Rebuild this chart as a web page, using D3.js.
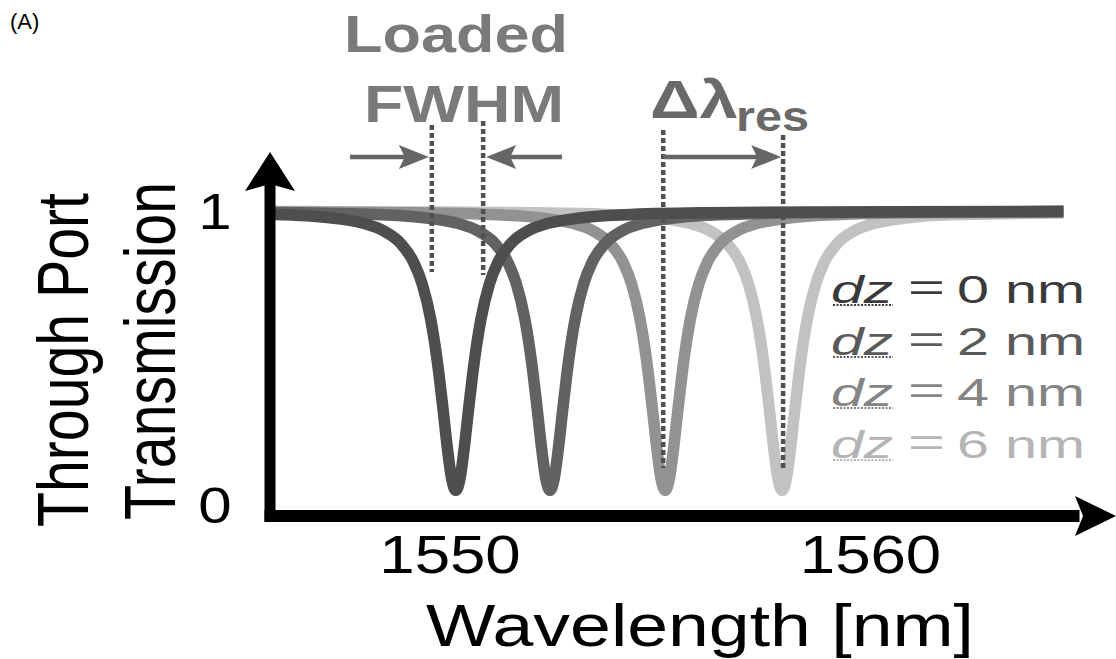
<!DOCTYPE html>
<html><head><meta charset="utf-8">
<script src="https://cdn.jsdelivr.net/npm/d3@7"></script>
<style>
body{margin:0;background:#fff}
svg{display:block;background:#fff}
text{font-family:"Liberation Sans",Arial,Helvetica,sans-serif}
</style></head>
<body><svg id="c" width="1116" height="659"></svg>
<script>
// ---------------- data ----------------
const wavelengthTicks = [1550, 1560];
const transmissionTicks = [0, 1];
const dzValues = ["0", "2", "4", "6"];
const resonanceCenters = [1550.15, 1552.39, 1555.13, 1557.91];
const fwhmEdges = [1549.58, 1550.80];

const dz0 = [[1545.85,.988],[1547.15,.977],[1547.95,.958],[1548.45,.931],[1548.85,.888],[1549.15,.825],[1549.35,.752],[1549.55,.634],[1549.65,.549],[1549.75,.444],[1549.85,.321],[1549.95,.193],[1550.05,.090],[1550.15,.050],[1550.25,.090],[1550.35,.193],[1550.45,.321],[1550.55,.444],[1550.65,.549],[1550.75,.634],[1550.95,.752],[1551.15,.825],[1551.45,.888],[1551.85,.931],[1552.35,.958],[1553.15,.977],[1554.15,.987],[1556.15,.994],[1559.15,.997],[1564.60,.999]];
const dz2 = [[1545.85,.995],[1546.39,.994],[1548.39,.987],[1549.39,.977],[1550.19,.958],[1550.69,.931],[1551.09,.888],[1551.39,.825],[1551.59,.752],[1551.79,.634],[1551.89,.549],[1551.99,.444],[1552.09,.321],[1552.19,.193],[1552.29,.090],[1552.39,.050],[1552.49,.090],[1552.59,.193],[1552.69,.321],[1552.79,.444],[1552.89,.549],[1552.99,.634],[1553.19,.752],[1553.39,.825],[1553.69,.888],[1554.09,.931],[1554.59,.958],[1555.39,.977],[1556.39,.987],[1558.39,.994],[1561.39,.997],[1564.60,.998]];
const dz4 = [[1545.85,.997],[1549.13,.994],[1551.13,.987],[1552.13,.977],[1552.93,.958],[1553.43,.931],[1553.83,.888],[1554.13,.825],[1554.33,.752],[1554.53,.634],[1554.63,.549],[1554.73,.444],[1554.83,.321],[1554.93,.193],[1555.03,.090],[1555.13,.050],[1555.23,.090],[1555.33,.193],[1555.43,.321],[1555.53,.444],[1555.63,.549],[1555.73,.634],[1555.93,.752],[1556.13,.825],[1556.43,.888],[1556.83,.931],[1557.33,.958],[1558.13,.977],[1559.13,.987],[1561.13,.994],[1564.60,.996]];
const dz6 = [[1545.85,.998],[1548.91,.997],[1551.91,.994],[1553.91,.987],[1554.91,.977],[1555.71,.958],[1556.21,.931],[1556.61,.888],[1556.91,.825],[1557.11,.752],[1557.31,.634],[1557.41,.549],[1557.51,.444],[1557.61,.321],[1557.71,.193],[1557.81,.090],[1557.91,.050],[1558.01,.090],[1558.11,.193],[1558.21,.321],[1558.31,.444],[1558.41,.549],[1558.51,.634],[1558.71,.752],[1558.91,.825],[1559.21,.888],[1559.61,.931],[1560.11,.958],[1560.91,.977],[1561.91,.987],[1564.60,.993]];

// ---------------- styling ----------------
const seriesData = [dz0, dz2, dz4, dz6];
const curveColors = ["#4e4e4e", "#626262", "#929292", "#c2c2c2"];
const legendColors = ["#3a3a3a", "#5a5a5a", "#848484", "#b4b4b4"];
const annoColor = "#7a7a7a";
const dashColor = "#505050";

const svg = d3.select("#c");
const x = d3.scaleLinear().domain([1550, 1560]).range([449.5, 870]);
const y = d3.scaleLinear().domain([0, 1]).range([505, 211]);
const axisYpx = 516, axisXpx = 270;

function stext(g, str, px, py, len, size, opt) {
  opt = opt || {};
  const t = g.append("text").attr("x", px).attr("y", py)
    .attr("font-size", size).attr("fill", opt.fill || "#000")
    .attr("font-weight", opt.weight || "normal")
    .attr("font-style", opt.style || "normal")
    .attr("textLength", len).attr("lengthAdjust", "spacingAndGlyphs")
    .text(str);
  if (opt.transform) t.attr("transform", opt.transform);
  return t;
}

// ---------------- curves ----------------
const line = d3.line().x(d => x(d[0])).y(d => y(d[1])).curve(d3.curveMonotoneX);
const curves = svg.append("g");
for (let i = seriesData.length - 1; i >= 0; i--) {
  curves.append("path").attr("d", line(seriesData[i]))
    .attr("fill", "none").attr("stroke", curveColors[i])
    .attr("stroke-width", 11.5).attr("stroke-linejoin", "round");
}

// ---------------- annotations ----------------
const anno = svg.append("g");
anno.append("line").attr("x1", x(fwhmEdges[0])).attr("x2", x(fwhmEdges[0]))
  .attr("y1", 125).attr("y2", 272);
anno.append("line").attr("x1", x(fwhmEdges[1])).attr("x2", x(fwhmEdges[1]))
  .attr("y1", 121).attr("y2", 275);
anno.append("line").attr("x1", x(resonanceCenters[2]) - 2).attr("x2", x(resonanceCenters[2]) - 2)
  .attr("y1", 130).attr("y2", 468);
anno.append("line").attr("x1", x(resonanceCenters[3]) + 1).attr("x2", x(resonanceCenters[3]) + 1)
  .attr("y1", 135).attr("y2", 470);
anno.selectAll("line").attr("stroke", dashColor).attr("stroke-width", 4.5)
  .attr("stroke-dasharray", "5,3");

function arrow(x0, x1, yy) {
  const dir = Math.sign(x1 - x0);
  anno.append("line").attr("x1", x0).attr("x2", x1 - dir * 20).attr("y1", yy).attr("y2", yy)
    .attr("stroke", "#666").attr("stroke-width", 4.5);
  anno.append("path").attr("d", `M${x1},${yy} L${x1 - dir * 30},${yy - 12} L${x1 - dir * 24},${yy} L${x1 - dir * 30},${yy + 12} Z`)
    .attr("fill", "#666");
}
arrow(350, x(fwhmEdges[0]) - 3, 157);
arrow(562, x(fwhmEdges[1]) + 3, 157);
arrow(x(resonanceCenters[2]) - 2, x(resonanceCenters[3]) - 1, 157);

stext(anno, "Loaded", 344, 52, 224, 52, {fill: annoColor, weight: "bold"});
stext(anno, "FWHM", 364, 122, 200, 52, {fill: annoColor, weight: "bold"});
stext(anno, "Δλ", 650, 118, 88, 53, {fill: "#6a6a6a", weight: "bold"});
stext(anno, "res", 736, 131, 73, 42, {fill: "#6a6a6a", weight: "bold"});

// ---------------- legend ----------------
const legend = svg.append("g");
const rowBase = [303, 355, 406, 458];
dzValues.forEach((v, i) => {
  const c = legendColors[i], yy = rowBase[i];
  stext(legend, "dz", 831, yy, 62, 39, {fill: c, style: "italic"});
  legend.append("line").attr("x1", 833).attr("x2", 893).attr("y1", yy + 2).attr("y2", yy + 2)
    .attr("stroke", c).attr("stroke-width", 2).attr("stroke-dasharray", "2,1.5");
  stext(legend, "=", 908, yy - 2, 37, 39, {fill: c});
  stext(legend, v, 957, yy, 32, 39, {fill: c});
  stext(legend, "nm", 1005, yy, 80, 39, {fill: c});
});

// ---------------- axes ----------------
const ax = svg.append("g");
ax.append("rect").attr("x", axisXpx - 5.5).attr("y", 182).attr("width", 11).attr("height", axisYpx + 6 - 182).attr("fill", "#000");
ax.append("path").attr("d", `M${axisXpx},152 L${axisXpx + 25},191 L${axisXpx},184 L${axisXpx - 25},191 Z`).attr("fill", "#000");
ax.append("rect").attr("x", axisXpx - 5.5).attr("y", axisYpx - 6).attr("width", 1085 - axisXpx).attr("height", 12).attr("fill", "#000");
ax.append("path").attr("d", `M1116,${axisYpx} L1075,${axisYpx - 20} L1083,${axisYpx} L1075,${axisYpx + 20} Z`).attr("fill", "#000");

const gx = svg.append("g").attr("transform", `translate(0,${axisYpx})`)
  .call(d3.axisBottom(x).tickValues(wavelengthTicks).tickSize(0).tickFormat(d3.format("d")));
gx.select(".domain").remove();
gx.selectAll("text").attr("y", 57).attr("dy", 0).attr("font-size", 53)
  .attr("font-family", "Liberation Sans, Arial, sans-serif").attr("fill", "#000")
  .attr("transform", "scale(1.2,1)");

const gy = svg.append("g").attr("transform", `translate(${axisXpx},0)`)
  .call(d3.axisLeft(y).tickValues(transmissionTicks).tickSize(0).tickFormat(d3.format("d")));
gy.select(".domain").remove();
gy.selectAll("text").attr("x", -55 / 1.2).attr("dy", "0.35em").attr("font-size", 50)
  .attr("text-anchor", "middle")
  .attr("font-family", "Liberation Sans, Arial, sans-serif").attr("fill", "#000")
  .attr("transform", "scale(1.2,1)");

stext(svg, "Wavelength [nm]", 426, 646, 548, 59);
stext(svg, "Through Port", 0, 0, 334, 73, {transform: "translate(88,527) rotate(-90)"});
stext(svg, "Transmission", 0, 0, 338, 72, {transform: "translate(175,520) rotate(-90)"});

svg.append("text").attr("x", 10).attr("y", 29).attr("font-size", 22).text("(A)");
</script></body></html>
